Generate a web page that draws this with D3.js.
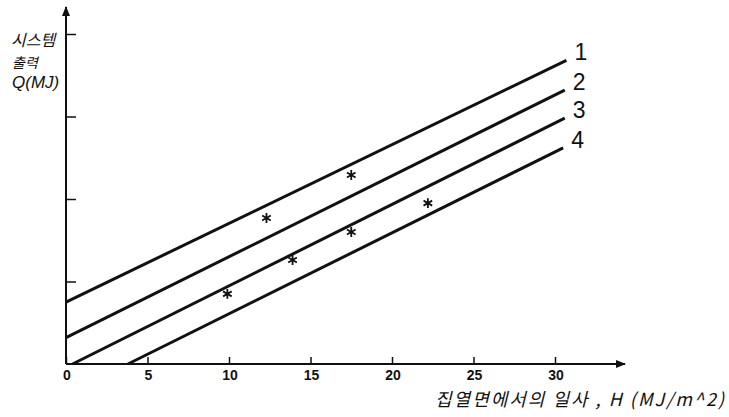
<!DOCTYPE html>
<html>
<head>
<meta charset="utf-8">
<title>System output vs insolation</title>
<script src="https://d3js.org/d3.v7.min.js"></script>
<style>
  body { margin: 0; background: #fff; }
  text { font-family: "Liberation Sans", "Noto Sans CJK KR", sans-serif; fill: #111; }
  text.kr { font-family: "Noto Sans CJK KR", sans-serif; }
</style>
</head>
<body>
<div id="my_dataviz"></div>
<script>

// lines 1..4, each given by two end points (H, Q)
var lineIds = ["1", "2", "3", "4"];
var lineStartH = [0, 0, 0.4, 3.8];
var lineStartQ = [0.75, 0.32, 0, 0];
var lineEndH = [30.7, 30.6, 30.6, 30.5];
var lineEndQ = [3.68, 3.32, 2.98, 2.62];

// measured points (asterisks)
var pointH = [9.9, 12.3, 13.9, 17.5, 17.5, 22.2];
var pointQ = [0.85, 1.77, 1.26, 2.29, 1.60, 1.95];

var xTicks = [0, 5, 10, 15, 20, 25, 30];
var yTicks = [1, 2, 3, 4];

var width = 729, height = 417;

var svg = d3.select("#my_dataviz")
    .append("svg")
    .attr("width", width)
    .attr("height", height);

// scales
var x = d3.scaleLinear().domain([0, 30]).range([66, 555]);
var y = d3.scaleLinear().domain([0, 4]).range([364, 34]);

var ink = "#111";

// arrow head
svg.append("defs").append("marker")
    .attr("id", "arrow")
    .attr("viewBox", "0 0 10 10")
    .attr("refX", 9).attr("refY", 5)
    .attr("markerWidth", 5).attr("markerHeight", 5)
    .attr("orient", "auto")
    .append("path")
    .attr("d", "M0,1 L10,5 L0,9 Z")
    .attr("fill", ink);

// X axis
var xAxis = svg.append("g")
    .attr("transform", "translate(0," + y(0) + ")")
    .call(d3.axisTop(x).tickValues(xTicks).tickSize(7).tickFormat(""));
xAxis.select(".domain").remove();
xAxis.selectAll("line").attr("stroke", ink).attr("stroke-width", 1.5);
xAxis.append("line")
    .attr("x1", x(0)).attr("x2", 625)
    .attr("stroke", ink).attr("stroke-width", 2)
    .attr("marker-end", "url(#arrow)");

svg.selectAll(".xlab")
    .data(xTicks)
    .enter()
    .append("text")
    .attr("x", function(d) { return x(d) + 1; })
    .attr("y", y(0) + 16)
    .attr("text-anchor", "middle")
    .attr("font-size", 14)
    .attr("font-weight", "bold")
    .text(function(d) { return d; });

// Y axis
var yAxis = svg.append("g")
    .attr("transform", "translate(" + x(0) + ",0)")
    .call(d3.axisRight(y).tickValues(yTicks).tickSize(10).tickFormat(""));
yAxis.select(".domain").remove();
yAxis.selectAll("line").attr("stroke", ink).attr("stroke-width", 1.5);
yAxis.append("line")
    .attr("y1", y(0)).attr("y2", 7)
    .attr("stroke", ink).attr("stroke-width", 2)
    .attr("marker-end", "url(#arrow)");

// lines
var lineData = lineIds.map(function(id, i) {
    return { id: id, pts: [[lineStartH[i], lineStartQ[i]], [lineEndH[i], lineEndQ[i]]] };
});

var line = d3.line()
    .x(function(d) { return x(d[0]); })
    .y(function(d) { return y(d[1]); });

svg.selectAll(".fitline")
    .data(lineData)
    .enter()
    .append("path")
    .attr("d", function(d) { return line(d.pts); })
    .attr("fill", "none")
    .attr("stroke", ink)
    .attr("stroke-width", 3);

svg.selectAll(".linelab")
    .data(lineData)
    .enter()
    .append("text")
    .attr("x", function(d) { return x(d.pts[1][0]) + 8; })
    .attr("y", function(d) { return y(d.pts[1][1]) - 6; })
    .attr("dominant-baseline", "middle")
    .attr("font-size", 23)
    .text(function(d) { return d.id; });

// points
svg.selectAll(".pt")
    .data(pointH)
    .enter()
    .append("path")
    .attr("transform", function(d, i) { return "translate(" + x(d) + "," + y(pointQ[i]) + ")"; })
    .attr("d", d3.symbol().type(d3.symbolAsterisk).size(70))
    .attr("fill", "none")
    .attr("stroke", ink)
    .attr("stroke-width", 1.8);

// axis titles
var yTitle = svg.append("g").attr("font-style", "italic");
yTitle.append("text").attr("class", "kr").attr("x", 11).attr("y", 46)
    .attr("font-size", 16).text("시스템");
yTitle.append("text").attr("class", "kr").attr("x", 12).attr("y", 68)
    .attr("font-size", 14).text("출력");
yTitle.append("text").attr("x", 12).attr("y", 88)
    .attr("font-size", 17).text("Q(MJ)");

svg.append("text")
    .attr("class", "kr")
    .attr("x", 435)
    .attr("y", 406)
    .attr("font-size", 18)
    .attr("font-style", "italic")
    .attr("textLength", 289)
    .attr("lengthAdjust", "spacing")
    .text("집열면에서의 일사 , H (MJ/m^2)");

</script>
</body>
</html>
